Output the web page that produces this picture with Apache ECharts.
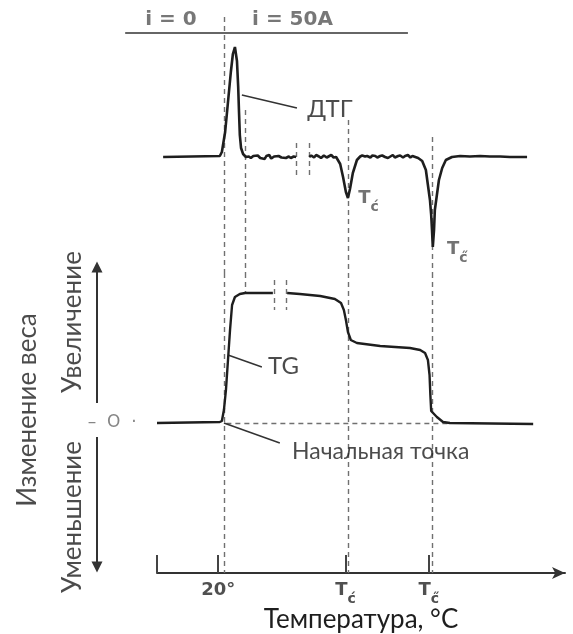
<!DOCTYPE html>
<html>
<head>
<meta charset="utf-8">
<script src="https://cdn.jsdelivr.net/npm/echarts@6/dist/echarts.min.js"></script>
<style>
  html, body { margin: 0; padding: 0; background: #fff; }
  #chart { width: 573px; height: 634px; }
</style>
</head>
<body>
<div id="chart"></div>
<script>
// Temperature in relative units (0..100 along the heating axis)
const dtgTemp = [1.5, 15.4, 15.9, 16.7, 17.4, 18.1, 18.6, 19.1, 19.4, 19.6, 19.9, 20.1, 20.3, 20.6, 21.1, 21.8,
  22.5, 23.0, 23.6, 24.0, 24.7, 25.3, 25.7, 26.4, 26.8, 27.5, 28.0, 28.7, 29.1, 29.8, 30.5, 30.9, 31.6, 32.3, 32.8, 33.5, 34.1,
  35.7,
  37.3, 37.8, 38.5, 39.0, 39.7, 40.2, 40.9, 41.6, 42.0, 42.7, 43.3, 43.9, 44.9, 45.6, 46.3, 46.8, 47.3, 48.0, 49.0, 49.8,
  50.3, 51.0, 51.5, 52.3, 52.8, 53.5, 54.0, 54.7, 55.2, 55.9, 56.6, 57.0, 57.8, 58.3, 59.1, 59.6, 60.3, 60.8, 61.5,
  62.1, 62.6, 63.3, 64.0, 65.0, 65.9, 66.4, 66.9, 67.2, 67.4, 67.6, 67.9, 68.1, 68.6, 69.1, 69.9, 70.8, 72.3,
  74.3, 76.7, 79.2, 81.6, 84.1, 86.5, 89.0, 90.7];
const dtgSignal = [0, 0.1, 0.5, 2.5, 5.5, 8.5, 10.3, 11.0, 10.8, 9.6, 7.0, 4.5, 2.2, 0.9, 0.3, 0,
  0.05, -0.1, 0.1, -0.05, 0.15, -0.1, 0.05, -0.2, 0.1, 0.2, -0.15, 0.05, -0.1, 0.1, -0.05, 0.15, -0.1, 0.05, -0.1, 0.05, 0,
  null,
  0, 0.15, -0.05, 0.2, 0.05, -0.1, 0.15, -0.05, 0.1, 0.2, -0.05, 0, -0.7, -2.0, -3.5, -4.1, -3.2, -1.6, -0.3, 0.05,
  0.15, 0.05, 0.1, -0.05, 0.15, 0.1, -0.05, 0.1, 0.15, 0, -0.1, 0.1, 0.2, -0.05, 0.1, 0.15, -0.05, 0.1, 0.2,
  -0.05, 0.1, 0, -0.1, -0.4, -1.3, -2.8, -4.3, -5.8, -7.3, -9.0, -7.3, -5.3, -3.8, -2.3, -1.1, -0.3, 0,
  0.1, 0.05, 0.1, 0.05, 0.05, 0, 0, 0];

const tgTemp = [0, 15.4, 15.9, 16.4, 16.9, 17.4, 17.9, 18.4, 19.1, 20.3, 21.6, 28.4,
  30.0,
  31.9, 35.0, 40.0, 43.6, 45.1, 45.8, 46.3, 46.8, 47.5, 49.0, 54.7, 62.0, 64.5,
  65.7, 66.4, 66.8, 67.0, 67.2, 68.6, 70.1, 71.8, 92.2];
const tgWeight = [0, 0.1, 0.2, 1.3, 3.3, 6.3, 9.3, 11.8, 12.6, 12.9, 13.0, 13.0,
  null,
  13.0, 12.9, 12.7, 12.4, 12.0, 11.3, 10.3, 9.1, 8.3, 8.0, 7.7, 7.5, 7.3,
  7.0, 6.3, 4.8, 2.8, 1.2, 0.6, 0.1, 0, -0.1];

// Temperature axis ticks and their labels
const tempTicks = [0, 15, 46.2, 66.6];
const tempTickLabels = ['', '20°', "T'c", "T''c"];

// Characteristic temperatures marked with dashed guides
const startTemp = 16.4;
const peakEndTemp = 21.6;
const tc1 = 46.8;
const tc2 = 67.4;

function pairs(xs, ys) {
  return xs.map((x, i) => [x, ys[i] === null ? '-' : ys[i]]);
}
function segs(list) {
  return list.map(s => ({ coords: s }));
}
function tempLabelRich(name) {
  if (name === "T'c") return '{t|T}{c|c\u0301}';
  if (name === "T''c") return '{t|T}{c|c\u030B}';
  return '{n|' + name + '}';
}

const ink = '#1e1e1e';
const guide = '#707070';
const sans = 'Lato, "Open Sans", sans-serif';
const typeFace = '"DejaVu Sans", sans-serif';
const tRich = {
  t: { fontFamily: typeFace, fontSize: 18, fontWeight: 'bold', color: '#505050', padding: [0, 0, 7, 0], verticalAlign: 'bottom' },
  c: { fontFamily: typeFace, fontSize: 14, fontWeight: 'bold', color: '#505050', verticalAlign: 'bottom' },
  n: { fontFamily: typeFace, fontSize: 18, fontWeight: 'bold', color: '#505050' }
};

function textItem(x, y, text, opts) {
  return {
    value: [x, y],
    label: Object.assign({
      show: true, position: 'inside', formatter: text,
      fontFamily: sans, fontSize: 23, color: ink, align: 'left', verticalAlign: 'middle'
    }, opts || {})
  };
}
function lineLayer(xi, style, data, symbol) {
  return {
    type: 'lines', coordinateSystem: 'cartesian2d', xAxisIndex: xi, yAxisIndex: xi,
    clip: false, silent: true, polyline: false,
    symbol: symbol || 'none', symbolSize: 11,
    lineStyle: Object.assign({ opacity: 1, curveness: 0 }, style),
    data: segs(data)
  };
}

const chart = echarts.init(document.getElementById('chart'), null, { renderer: 'canvas' });

chart.setOption({
  animation: false,
  backgroundColor: '#fff',
  grid: [
    { left: 157, right: 8, top: 17, height: 240 },
    { left: 157, right: 8, top: 273, height: 300 }
  ],
  xAxis: [
    { gridIndex: 0, type: 'value', min: 0, max: 100, show: false },
    {
      gridIndex: 1, type: 'value', min: 0, max: 100,
      splitLine: { show: false },
      axisLine: { show: true, onZero: false, symbol: ['none', 'arrow'], symbolSize: [9, 13], lineStyle: { color: '#333', width: 2 } },
      axisTick: { show: true, inside: true, length: 18, customValues: tempTicks, lineStyle: { color: '#444', width: 2 } },
      axisLabel: {
        show: true, customValues: tempTicks.slice(1), margin: 8,
        formatter: v => tempLabelRich(tempTickLabels[tempTicks.indexOf(v)] || ''),
        rich: tRich
      },
      name: 'Температура, °C', nameLocation: 'middle', nameGap: 32,
      nameTextStyle: { fontFamily: sans, fontSize: 26, color: ink }
    }
  ],
  yAxis: [
    { gridIndex: 0, type: 'value', min: -10, max: 14, show: false },
    { gridIndex: 1, type: 'value', min: -15, max: 15, show: false }
  ],
  series: [
    // dashed guides, upper panel
    lineLayer(0, { color: guide, width: 1.4, type: [5, 4] }, [
      [[startTemp, 14], [startTemp, -11.6]],
      [[peakEndTemp, 4.7], [peakEndTemp, -11.6]],
      [[tc1, 3.7], [tc1, -11.6]],
      [[tc2, 2.0], [tc2, -11.6]],
      [[34.1, 1.4], [34.1, -2.1]],
      [[37.3, 1.4], [37.3, -2.1]]
    ]),
    // dashed guides, lower panel
    lineLayer(1, { color: guide, width: 1.4, type: [5, 4] }, [
      [[startTemp, 15], [startTemp, -15]],
      [[peakEndTemp, 15], [peakEndTemp, 13]],
      [[tc1, 15], [tc1, -15]],
      [[tc2, 15], [tc2, -15]],
      [[28.7, 14.3], [28.7, 11.3]],
      [[31.6, 14.3], [31.6, 11.3]],
      [[17, 0], [72, 0]]
    ]),
    // current bar and DTG leader
    lineLayer(0, { color: '#333', width: 1.5 }, [
      [[-7.8, 12.4], [61.5, 12.4]],
      [[20.8, 6.2], [34.3, 4.9]]
    ]),
    // TG and start-point leaders
    lineLayer(1, { color: '#333', width: 1.5 }, [
      [[17.4, 6.8], [25.7, 5.6]],
      [[16.4, 0], [30.1, -2.0]]
    ]),
    // weight-change direction arrows
    lineLayer(1, { color: '#333', width: 2 }, [
      [[-14.7, 2], [-14.7, 15.6]],
      [[-14.7, -1.4], [-14.7, -14.4]]
    ], ['none', 'triangle']),
    // DTG curve
    {
      name: 'ДТГ', type: 'line', xAxisIndex: 0, yAxisIndex: 0, symbol: 'none', clip: false,
      lineStyle: { color: ink, width: 2.6 },
      data: pairs(dtgTemp, dtgSignal)
    },
    // TG curve
    {
      name: 'TG', type: 'line', xAxisIndex: 1, yAxisIndex: 1, symbol: 'none', clip: false,
      lineStyle: { color: ink, width: 2.4 },
      data: pairs(tgTemp, tgWeight)
    },
    // upper panel captions
    {
      type: 'scatter', xAxisIndex: 0, yAxisIndex: 0, clip: false, symbolSize: 0, silent: true,
      data: [
        textItem(-2.9, 13.7, 'i = 0', { fontFamily: typeFace, fontWeight: 'bold', fontSize: 20, color: '#555' }),
        textItem(23.3, 13.7, 'i = 50A', { fontFamily: typeFace, fontWeight: 'bold', fontSize: 20, color: '#555' }),
        textItem(36.8, 4.8, 'ДТГ', { fontSize: 24 }),
        textItem(49.3, -4.5, tempLabelRich("T'c"), { rich: tRich }),
        textItem(71.1, -9.6, tempLabelRich("T''c"), { rich: tRich })
      ]
    },
    // lower panel captions
    {
      type: 'scatter', xAxisIndex: 1, yAxisIndex: 1, clip: false, symbolSize: 0, silent: true,
      data: [
        textItem(27.2, 5.7, 'TG', { fontSize: 24 }),
        textItem(33.1, -2.9, 'Начальная точка'),
        textItem(-20.8, 10.1, 'Увеличение', { rotate: 90, align: 'center', fontSize: 26 }),
        textItem(-20.8, -9.4, 'Уменьшение', { rotate: 90, align: 'center', fontSize: 26 }),
        textItem(-31.6, 1.3, 'Изменение веса', { rotate: 90, align: 'center', fontSize: 26 }),
        textItem(-11, 0, '–  O  ·', { align: 'center', fontFamily: typeFace, fontSize: 17, color: '#666' })
      ]
    }
  ]
});
</script>
</body>
</html>
